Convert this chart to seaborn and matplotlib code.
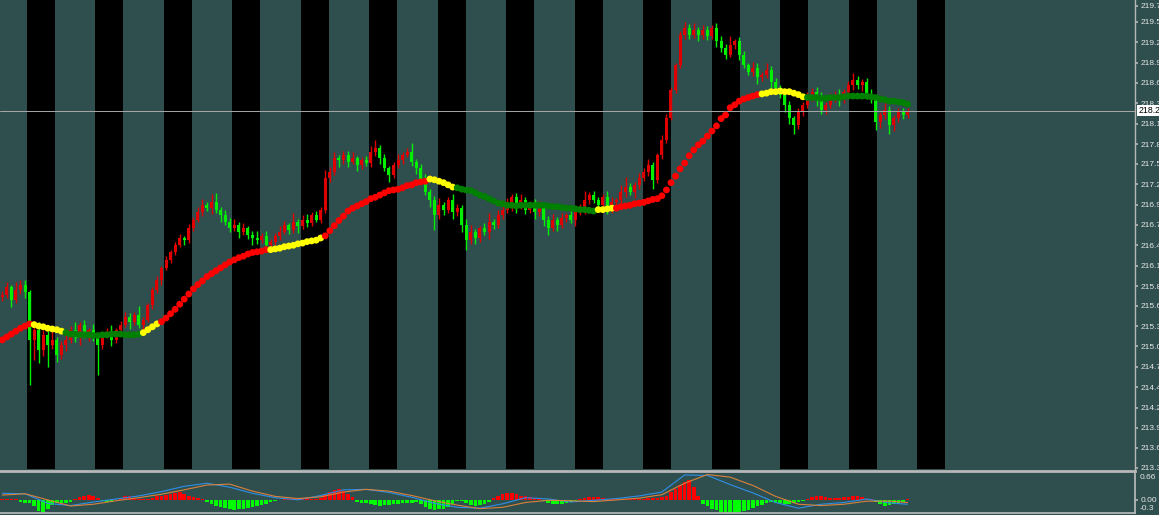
import numpy as np
import pandas as pd
import matplotlib
matplotlib.use('Agg')
import matplotlib.pyplot as plt
import matplotlib.transforms as mtransforms
import seaborn as sns

# ── Data ───────────────────────────────────────────────────────────────────────
first_open = 215.72
closes = [
    215.75, 215.85, 215.68, 215.82, 215.89, 215.79, 215.13, 215.27, 214.99, 215.20,
    215.06, 215.13, 214.92, 215.06, 215.13, 215.27, 215.16, 215.34, 215.20, 215.27,
    215.16, 215.06, 215.20, 215.24, 215.13, 215.27, 215.34, 215.44, 215.38, 215.47,
    215.34, 215.40, 215.61, 215.82, 215.95, 216.12, 216.23, 216.34, 216.44, 216.53,
    216.50, 216.67, 216.78, 216.89, 216.98, 216.94, 217.03, 216.92, 216.85, 216.75,
    216.67, 216.71, 216.61, 216.67, 216.57, 216.53, 216.50, 216.56, 216.44, 216.48,
    216.56, 216.61, 216.71, 216.64, 216.75, 216.70, 216.78, 216.74, 216.85, 216.78,
    216.92, 217.36, 217.44, 217.63, 217.60, 217.67, 217.57, 217.63, 217.53, 217.60,
    217.56, 217.71, 217.77, 217.63, 217.49, 217.40, 217.53, 217.60, 217.67, 217.71,
    217.57, 217.49, 217.33, 217.16, 217.05, 216.85, 216.98, 216.92, 217.05, 216.89,
    216.94, 216.71, 216.50, 216.61, 216.53, 216.67, 216.61, 216.75, 216.71, 216.85,
    216.92, 216.98, 217.09, 216.98, 217.05, 216.92, 217.00, 216.89, 216.94, 216.78,
    216.67, 216.78, 216.71, 216.81, 216.85, 216.78, 216.89, 216.92, 217.05, 217.12,
    217.05, 216.98, 217.09, 216.92, 217.03, 217.05, 217.16, 217.23, 217.16, 217.26,
    217.36, 217.44, 217.53, 217.33, 217.67, 217.88, 218.18, 218.57, 218.91, 219.32,
    219.42, 219.32, 219.39, 219.32, 219.39, 219.31, 219.42, 219.23, 219.14, 219.05,
    219.18, 219.23, 219.05, 218.91, 218.81, 218.87, 218.74, 218.77, 218.84, 218.67,
    218.59, 218.50, 218.36, 218.18, 218.08, 218.26, 218.36, 218.46, 218.54, 218.43,
    218.29, 218.36, 218.46, 218.50, 218.43, 218.54, 218.63, 218.70, 218.63, 218.67,
    218.50, 218.43, 218.12, 218.22, 218.29, 218.08, 218.18, 218.26, 218.22, 218.28,
]
# wick lengths above / below the body, in cents
up_wick = [
    5, 8, 4, 10, 6, 6, 3, 8, 10, 6,
    5, 12, 4, 6, 8, 5, 10, 4, 6, 3,
    8, 5, 4, 6, 10, 3, 5, 8, 6, 4,
    12, 5, 3, 4, 6, 2, 5, 3, 4, 6,
    3, 5, 4, 6, 8, 5, 10, 12, 4, 6,
    5, 8, 4, 6, 3, 5, 10, 4, 6, 3,
    4, 8, 5, 3, 12, 4, 6, 8, 4, 5,
    3, 10, 6, 8, 4, 6, 5, 8, 3, 4,
    6, 8, 10, 4, 6, 3, 5, 8, 4, 6,
    12, 4, 6, 8, 5, 6, 10, 5, 4, 8,
    6, 4, 8, 10, 5, 3, 6, 12, 4, 6,
    5, 10, 4, 6, 8, 5, 4, 6, 10, 3,
    5, 8, 4, 6, 3, 5, 6, 8, 12, 4,
    6, 5, 4, 8, 6, 3, 10, 14, 5, 4,
    6, 5, 8, 4, 3, 6, 5, 4, 3, 6,
    8, 5, 10, 4, 6, 5, 4, 6, 8, 5,
    12, 4, 6, 5, 3, 8, 6, 4, 10, 5,
    6, 4, 8, 5, 3, 6, 4, 8, 5, 6,
    10, 4, 6, 5, 8, 4, 6, 10, 5, 4,
    6, 8, 5, 4, 10, 6, 4, 5, 6, 3,
]
dn_wick = [
    6, 5, 10, 4, 6, 8, 62, 28, 18, 8,
    30, 6, 10, 5, 8, 4, 6, 10, 5, 8,
    4, 41, 6, 5, 8, 4, 6, 3, 10, 5,
    4, 8, 3, 5, 4, 6, 3, 5, 4, 3,
    6, 4, 5, 3, 6, 4, 8, 5, 10, 4,
    6, 5, 8, 4, 6, 10, 5, 4, 8, 5,
    4, 6, 3, 5, 4, 10, 4, 6, 5, 3,
    4, 5, 6, 4, 10, 5, 6, 3, 8, 5,
    4, 6, 5, 8, 4, 10, 5, 4, 6, 3,
    5, 8, 6, 4, 10, 21, 6, 8, 5, 10,
    6, 10, 13, 5, 8, 6, 4, 10, 5, 4,
    6, 4, 8, 10, 5, 6, 4, 10, 6, 8,
    10, 5, 8, 4, 6, 5, 8, 4, 6, 5,
    4, 8, 5, 6, 4, 10, 5, 6, 4, 8,
    5, 4, 6, 12, 4, 5, 4, 3, 5, 4,
    6, 5, 4, 8, 5, 6, 4, 8, 5, 6,
    4, 6, 8, 5, 4, 6, 10, 5, 4, 8,
    6, 5, 10, 8, 12, 5, 6, 4, 5, 8,
    6, 5, 4, 6, 8, 5, 4, 6, 5, 8,
    6, 5, 10, 8, 6, 12, 8, 6, 5, 4,
]
ma_values = [
    215.13, 215.17, 215.21, 215.25, 215.29, 215.32, 215.35, 215.34, 215.32, 215.31,
    215.29, 215.28, 215.27, 215.25, 215.23, 215.21, 215.21, 215.20, 215.20, 215.20,
    215.19, 215.19, 215.20, 215.20, 215.21, 215.21, 215.21, 215.20, 215.20, 215.20,
    215.21, 215.23, 215.27, 215.31, 215.35, 215.38, 215.43, 215.49, 215.55, 215.62,
    215.69, 215.76, 215.83, 215.89, 215.94, 216.00, 216.04, 216.08, 216.12, 216.16,
    216.20, 216.23, 216.26, 216.28, 216.31, 216.33, 216.34, 216.35, 216.37, 216.37,
    216.38, 216.39, 216.41, 216.42, 216.43, 216.45, 216.46, 216.48, 216.49, 216.50,
    216.53, 216.56, 216.63, 216.70, 216.77, 216.83, 216.90, 216.94, 216.97, 217.00,
    217.03, 217.07, 217.09, 217.12, 217.15, 217.18, 217.19, 217.20, 217.22, 217.25,
    217.26, 217.29, 217.30, 217.31, 217.34, 217.33, 217.31, 217.29, 217.26, 217.23,
    217.22, 217.20, 217.19, 217.18, 217.15, 217.12, 217.10, 217.07, 217.04, 217.01,
    217.00, 216.98, 216.98, 216.97, 216.98, 216.98, 216.98, 216.98, 216.98, 216.98,
    216.97, 216.96, 216.96, 216.95, 216.94, 216.94, 216.93, 216.92, 216.92, 216.91,
    216.90, 216.92, 216.92, 216.93, 216.94, 216.94, 216.96, 216.97, 216.98, 217.00,
    217.01, 217.02, 217.04, 217.06, 217.07, 217.11, 217.19, 217.29, 217.38, 217.48,
    217.56, 217.66, 217.74, 217.81, 217.86, 217.93, 218.00, 218.07, 218.17, 218.22,
    218.32, 218.36, 218.41, 218.44, 218.46, 218.48, 218.50, 218.51, 218.52, 218.54,
    218.54, 218.55, 218.54, 218.54, 218.52, 218.50, 218.47, 218.46, 218.46, 218.46,
    218.45, 218.45, 218.46, 218.46, 218.46, 218.47, 218.48, 218.48, 218.48, 218.48,
    218.48, 218.47, 218.46, 218.44, 218.43, 218.41, 218.41, 218.40, 218.39, 218.37,
]
ma_runs = [('up', 7), ('flat', 7), ('down', 17), ('flat', 4), ('up', 24), ('flat', 12),
           ('up', 23), ('flat', 6), ('down', 31), ('flat', 4), ('up', 32), ('flat', 10),
           ('down', 23)]

# MACD histogram, in hundredths
macd_hist = [
    2, 2, 2, 2, -5, -8, -8, -15, -25, -27,
    -20, -12, -8, -8, -7, -5, 3, 7, 10, 11,
    8, 4, -3, -6, -5, -1, 4, 8, 8, 5,
    1, 1, 3, 5, 8, 10, 12, 14, 16, 17,
    14, 10, 7, 4, 1, -4, -9, -13, -16, -19,
    -21, -23, -22, -20, -18, -16, -14, -12, -9, -6,
    -3, -1, 1, 3, 5, 5, 4, 4, 3, 2,
    4, 12, 18, 22, 24, 20, 14, 7, -4, -7,
    -8, -10, -12, -13, -12, -11, -10, -9, -8, -8,
    -7, -6, -10, -16, -21, -23, -22, -20, -16, -10,
    -3, -2, -8, -12, -13, -12, -10, -5, 4, 9,
    13, 15, 15, 13, 10, 8, 6, 4, 2, -3,
    -7, -9, -10, -9, -8, -5, -2, 3, 5, 6,
    7, 7, 5, 3, 2, 2, 2, 2, 2, 2,
    2, 3, 4, 5, 5, 6, 10, 18, 26, 34,
    42, 45, 30, 8, -10, -15, -20, -24, -27, -29,
    -31, -30, -28, -26, -23, -19, -15, -11, -7, -6,
    -7, -8, -9, -9, -8, -6, -3, 3, 6, 8,
    8, 6, 4, 4, 5, 6, 7, 8, 8, 6,
    3, 1, -5, -10, -14, -12, -9, -7, -5, 2,
]
line_idx = list(range(0, 200, 5)) + [199]
macd_main = [0.15, 0.14, -0.08, -0.13, -0.05, 0.02, 0.09, 0.19, 0.31, 0.38,
             0.29, 0.15, 0.05, 0.00, 0.10, 0.23, 0.24, 0.17, 0.06, -0.08,
             -0.17, -0.19, -0.09, 0.05, 0.02, -0.05, -0.01, 0.03, 0.09, 0.18,
             0.57, 0.56, 0.35, 0.16, -0.06, -0.19, -0.10, -0.06, 0.02, -0.07, -0.10]
macd_signal = [0.11, 0.14, 0.00, -0.14, -0.10, -0.02, 0.05, 0.13, 0.23, 0.34,
               0.36, 0.20, 0.08, 0.03, 0.07, 0.18, 0.24, 0.20, 0.10, -0.02,
               -0.12, -0.20, -0.17, -0.06, -0.01, -0.02, -0.04, 0.00, 0.04, 0.12,
               0.38, 0.58, 0.52, 0.33, 0.08, -0.10, -0.13, -0.10, -0.03, -0.03, -0.06]

price_ticks = [219.72, 219.50, 219.22, 218.94, 218.66, 218.38, 218.10, 217.82, 217.55,
               217.27, 216.99, 216.71, 216.43, 216.15, 215.87, 215.60, 215.32, 215.04,
               214.76, 214.48, 214.20, 213.92, 213.65, 213.37]
price_labels = ['%.2f' % v for v in price_ticks]
last_price = 218.28

# ── Style ─────────────────────────────────────────────────────────────────────
BG = '#2F4F4F'
TXT = '#E6E6E6'
sns.set_theme(style='dark', rc={'axes.facecolor': BG, 'figure.facecolor': BG,
                                'axes.edgecolor': '#B0B0B0', 'axes.grid': False})
plt.rcParams['font.family'] = ['Liberation Sans Narrow', 'Liberation Sans', 'DejaVu Sans']

fig = plt.figure(figsize=(11.59, 5.15), dpi=100)
ax = fig.add_axes([0.0, 0.0893, 0.9793, 0.9107])
ax2 = fig.add_axes([0.0, 0.0039, 0.9793, 0.0815], sharex=ax)

n = len(closes)
idx = np.arange(n)
c = np.array(closes)
o = np.r_[first_open, c[:-1]]
hi = np.maximum(o, c) + np.array(up_wick) / 100
lo = np.minimum(o, c) - np.array(dn_wick) / 100
up = c >= o
cndl_col = np.where(up, '#E00000', '#00F000')

# session stripes
for k in range(14):
    s0 = 5.43 + 15.055 * k
    ax.axvspan(s0, s0 + 6.15, color='black', lw=0, zorder=0)

# candles
ax.vlines(idx, lo, hi, colors=cndl_col, lw=1.0, zorder=2)
body = np.where(np.abs(c - o) < 0.01, 0.01, c - o)
ax.bar(idx, body, bottom=o, width=0.66, color=cndl_col, lw=0, zorder=3)

# moving average, coloured by trend state
ma_state = sum([[s] * k for s, k in ma_runs], [])
df_ma = pd.DataFrame({'i': idx, 'ma': ma_values, 'state': ma_state})
sns.scatterplot(data=df_ma, x='i', y='ma', hue='state', ax=ax, s=24, linewidth=0,
                palette={'up': '#FF0000', 'flat': '#FFFF00', 'down': '#008000'},
                legend=False, zorder=5)

# current price line + label
ax.axhline(last_price, color='#A8A8A8', lw=0.7, zorder=4)
trans = mtransforms.blended_transform_factory(ax.transAxes, ax.transData)
ax.text(1.003, last_price, '%.2f' % last_price, transform=trans, fontsize=6.3,
        color='black', va='center', ha='left', clip_on=False, zorder=10,
        bbox=dict(facecolor='white', edgecolor='none', pad=0.8))

ax.set_xlim(-0.5, 249.0)
ax.set_ylim(213.356, 219.80)
ax.yaxis.tick_right()
ax.set_yticks(price_ticks)
ax.set_yticklabels(price_labels)
ax.tick_params(axis='y', direction='out', length=2, pad=2, colors='#B0B0B0',
               labelcolor=TXT, labelsize=6)
ax.tick_params(axis='x', bottom=False, labelbottom=False)
ax.set_xlabel('')
ax.set_ylabel('')
for side in ['left', 'top', 'bottom']:
    ax.spines[side].set_visible(False)
ax.spines['right'].set_color('#B8B8B8')
ax.spines['right'].set_linewidth(1.0)

# ── MACD sub-panel ────────────────────────────────────────────────────────────
h = np.array(macd_hist) / 100
ax2.bar(idx, h, width=0.8, color=np.where(h >= 0, '#FF0000', '#00FF00'), lw=0, zorder=2)
df_lines = pd.DataFrame({'i': line_idx, 'macd': macd_main, 'signal': macd_signal})
sns.lineplot(data=df_lines, x='i', y='macd', ax=ax2, color='#2E8FE8', lw=0.8, zorder=3)
sns.lineplot(data=df_lines, x='i', y='signal', ax=ax2, color='#D9823B', lw=0.8, zorder=3)

ax2.set_ylim(-0.30, 0.66)
ax2.yaxis.tick_right()
ax2.set_yticks([0.0])
ax2.set_yticklabels(['0.00'])
ax2.tick_params(axis='y', direction='out', length=2, pad=2, colors='#B0B0B0',
                labelcolor=TXT, labelsize=6)
ax2.text(1.004, 0.84, '0.66', transform=ax2.transAxes, fontsize=6, color=TXT,
         va='center', ha='left', clip_on=False)
ax2.text(1.004, 0.11, '-0.3', transform=ax2.transAxes, fontsize=6, color=TXT,
         va='center', ha='left', clip_on=False)
ax2.set_xticks(list(range(10, 200, 10)))
ax2.tick_params(axis='x', direction='out', length=3, colors='#B0B0B0', labelbottom=False)
ax2.set_xlabel('')
ax2.set_ylabel('')
ax2.spines['left'].set_visible(False)
for side in ['top', 'bottom', 'right']:
    ax2.spines[side].set_color('#B8B8B8')
ax2.spines['top'].set_linewidth(2.0)

plt.savefig('out.png', dpi=100, facecolor=BG)
plt.close()
